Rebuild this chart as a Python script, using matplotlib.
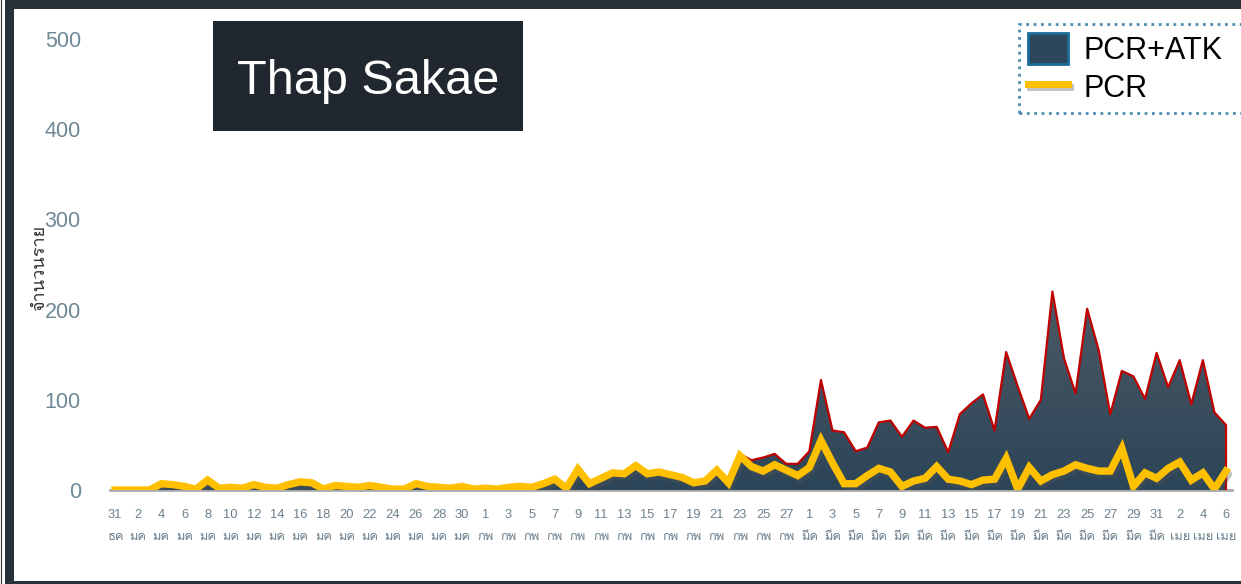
import matplotlib
matplotlib.use('Agg')
import matplotlib.pyplot as plt
import matplotlib.patheffects as pe
from matplotlib import font_manager
from matplotlib.ft2font import FT2Font
from matplotlib.colors import LinearSegmentedColormap
from matplotlib.lines import Line2D
from matplotlib.patches import Patch, Rectangle
import numpy as np
import pandas as pd

# ข้อมูลรายวัน 31 ธค - 6 เมย
start_date = '2021-12-31'
pcr = [0, 0, 0, 0, 7, 6, 4, 1, 11, 2, 3, 2, 6, 3, 2, 6, 9, 8, 1, 5,
       4, 3, 5, 3, 1, 1, 7, 4, 3, 2, 4, 1, 2, 1, 3, 4, 3, 7, 12, 2,
       23, 7, 13, 19, 18, 27, 18, 20, 17, 14, 8, 10, 22, 8, 38, 26, 21, 28, 22, 16,
       25, 55, 30, 7, 7, 16, 24, 20, 4, 10, 13, 26, 12, 10, 6, 11, 12, 35, 1, 25,
       10, 17, 21, 28, 24, 21, 21, 46, 4, 19, 13, 24, 31, 11, 19, 1, 21]
pcr_atk = [0, 0, 0, 0, 7, 6, 4, 1, 11, 2, 3, 2, 6, 3, 2, 6, 9, 8, 1, 5,
           4, 3, 5, 3, 1, 1, 7, 4, 3, 2, 4, 1, 2, 1, 3, 4, 3, 7, 12, 2,
           23, 7, 13, 19, 18, 27, 18, 20, 18, 16, 8, 10, 22, 8, 40, 33, 36, 40, 29, 29,
           43, 122, 66, 64, 43, 47, 75, 77, 59, 77, 69, 70, 42, 84, 96, 106, 66, 153, 115, 79,
           100, 220, 146, 107, 201, 155, 84, 132, 126, 101, 152, 114, 144, 95, 144, 86, 72]
thai_months = {12: 'ธค', 1: 'มค', 2: 'กพ', 3: 'มีค', 4: 'เมย'}
series_names = ['PCR+ATK', 'PCR']
y_ticks = [0, 100, 200, 300, 400, 500]
title = 'Thap Sakae'
y_label = 'จำนวนราย'


# หาฟอนต์ที่มีอักษรไทย
def has_thai(path):
    try:
        return ord('ก') in FT2Font(path).get_charmap()
    except Exception:
        return False


thai_fonts = []
for f in font_manager.fontManager.ttflist:
    if f.name not in thai_fonts and has_thai(f.fname):
        thai_fonts.append(f.name)
plt.rcParams['font.family'] = ['Liberation Sans'] + thai_fonts[:1] + ['DejaVu Sans']

W, H = 1241, 584
dates = pd.date_range(start_date, periods=len(pcr), freq='D')
days = np.arange(len(pcr))

fig = plt.figure(figsize=(W / 100, H / 100), dpi=100)
ax = fig.add_axes([110 / W, 1 - 490 / H, 1122 / W, 451 / H])

# พื้นที่ PCR+ATK ไล่สี
area = ax.fill_between(days, pcr_atk, color='none', lw=0)
cmap = LinearSegmentedColormap.from_list('g', ['#2c4558', '#4d5965'])
grad = np.linspace(0, 1, 256).reshape(-1, 1)
im = ax.imshow(grad, extent=[days[0], days[-1], 0, max(pcr_atk)], origin='lower',
               aspect='auto', cmap=cmap, zorder=1)
im.set_clip_path(area.get_paths()[0], ax.transData)

ax.plot(list(days) + [days[-1]], pcr_atk + [0], color='#c00000', lw=1.6, zorder=2)

shadow = [pe.SimpleLineShadow(offset=(1.5, -2.5), shadow_color='#555555', alpha=0.35), pe.Normal()]
ax.plot(days, pcr, color='#ffc000', lw=5.3, solid_joinstyle='miter', zorder=3, path_effects=shadow)

ax.set_xlim((110 - 115) / 11.573, (1232 - 115) / 11.573)
ax.set_ylim(0, 500)
ax.set_yticks(y_ticks)
ax.set_xticks(days[::2])
ax.set_xticklabels([f"{d.day}\n{thai_months[d.month]}" for d in dates[::2]])
for lab in ax.get_xticklabels():
    lab.set_linespacing(2.1)

ax.tick_params(axis='y', length=0, pad=21, labelsize=15.5, labelcolor='#6e8897')
ax.tick_params(axis='x', length=0, pad=14, labelsize=9.3, labelcolor='#6b808d')
for s in ['top', 'right', 'left']:
    ax.spines[s].set_visible(False)
ax.spines['bottom'].set_color('#aaaaaa')
ax.spines['bottom'].set_linewidth(2)
ax.spines['bottom'].set_zorder(0.5)

fig.text(40 / W, 1 - 268 / H, y_label, rotation=90, ha='center', va='center',
         fontsize=13, color='#333333')

# กล่องชื่อ
fig.add_artist(Rectangle((213 / W, 1 - 131 / H), 310 / W, 110 / H, transform=fig.transFigure,
                         facecolor='#21272e', edgecolor='none'))
fig.text(368 / W, 1 - 94 / H, title, ha='center', va='baseline', fontsize=35, color='white')

# legend
handles = [Patch(facecolor='#2e4659', edgecolor='#1a6d99', linewidth=2),
           Line2D([], [], color='#ffc000', lw=5, path_effects=shadow)]
leg = fig.legend(handles, series_names, loc='upper left', mode='expand',
                 bbox_to_anchor=(1019 / W, 1 - 112 / H, 240 / W, 88 / H),
                 fontsize=22, frameon=True, fancybox=False, borderpad=0.3, handlelength=1.3,
                 handleheight=1.2, handletextpad=0.5, labelspacing=0.15, borderaxespad=0)
frame = leg.get_frame()
frame.set_edgecolor('#1f6f9c')
frame.set_linestyle(':')
frame.set_linewidth(2)

# กรอบ
fig.add_artist(Rectangle((8.5 / W, -0.5 / H), 1260 / W, 580.5 / H, transform=fig.transFigure,
                         fill=False, edgecolor='#263238', lw=9 * 0.72, clip_on=False))
fig.add_artist(Line2D([0.5 / W, 0.5 / W], [0, 1], transform=fig.transFigure,
                      color='#263238', lw=0.8))

fig.savefig('out.png', dpi=100)
